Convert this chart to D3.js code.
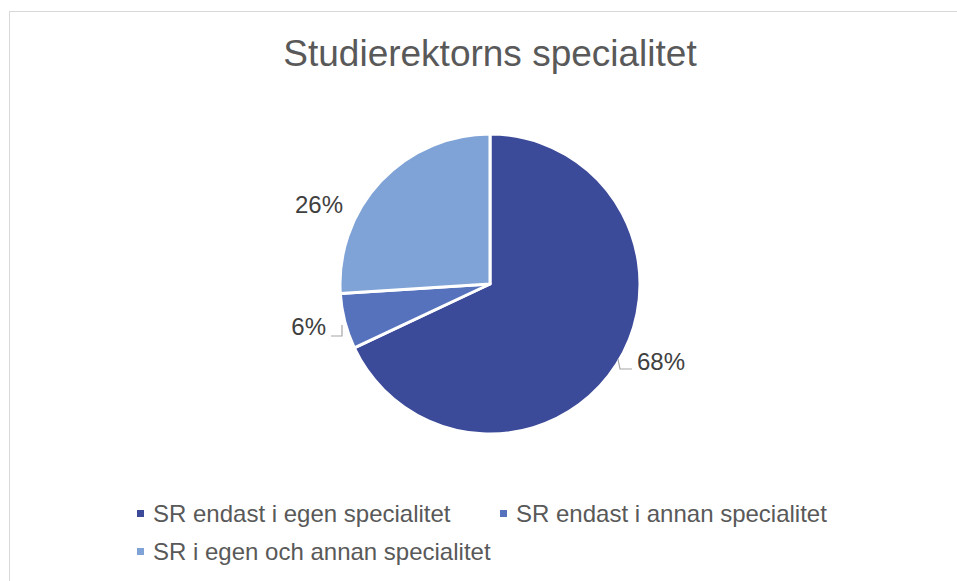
<!DOCTYPE html>
<html>
<head>
<meta charset="utf-8">
<script src="https://cdn.jsdelivr.net/npm/d3@7"></script>
<style>
  body { margin: 0; background: #fff; }
  text { font-family: "Liberation Sans", Arial, sans-serif; }
</style>
</head>
<body>
<svg width="957" height="581"></svg>
<script>
// chart data
var categories = ["SR endast i egen specialitet", "SR endast i annan specialitet", "SR i egen och annan specialitet"];
var values = [68, 6, 26];
var labels = ["68%", "6%", "26%"];
var colors = ["#3c4a9a", "#5672bd", "#7fa3d6"];

var svg = d3.select("svg"),
  width = +svg.attr("width"),
  height = +svg.attr("height");

// chart area border (runs off the right and bottom of the window)
svg.append("rect")
  .attr("x", 9.5).attr("y", 11.5)
  .attr("width", 960).attr("height", 600)
  .attr("fill", "#fff")
  .attr("stroke", "#d9d9d9");

// title
svg.append("text")
  .attr("x", 490).attr("y", 66)
  .attr("text-anchor", "middle")
  .attr("font-size", 37)
  .attr("fill", "#595959")
  .text("Studierektorns specialitet");

// pie
var cx = 490, cy = 284, r = 150;
var pie = d3.pie().sort(null).value(function(d) { return d; });
var arc = d3.arc().innerRadius(0).outerRadius(r);
var arcs = pie(values);

var g = svg.append("g").attr("transform", "translate(" + cx + "," + cy + ")");
g.selectAll("path")
  .data(arcs)
  .enter()
  .append("path")
  .attr("d", arc)
  .attr("fill", function(d, i) { return colors[i]; })
  .attr("stroke", "#fff")
  .attr("stroke-width", 3)
  .attr("stroke-linejoin", "round");

// data labels, placed outside the slices
var labelOffsets = [[147, 86], [-164, 51], [-171, -71]];
var anchors = ["start", "end", "middle"];
arcs.forEach(function(d, i) {
  svg.append("text")
    .attr("x", cx + labelOffsets[i][0])
    .attr("y", cy + labelOffsets[i][1])
    .attr("text-anchor", anchors[i])
    .attr("font-size", 24)
    .attr("fill", "#404040")
    .text(labels[i]);
});

// leader lines
var leaders = [
  [[cx + 128, cy + 75], [cx + 130, cy + 85], [cx + 142, cy + 85]],
  [[cx - 159, cy + 52], [cx - 148, cy + 52], [cx - 148, cy + 41]]
];
leaders.forEach(function(pts) {
  svg.append("path")
    .attr("d", d3.line()(pts))
    .attr("fill", "none")
    .attr("stroke", "#a6a6a6")
    .attr("stroke-width", 1.2);
});

// legend
var legendPos = [[137, 513], [500, 513], [137, 551]];
var legend = svg.append("g");
categories.forEach(function(c, i) {
  var p = legendPos[i];
  legend.append("rect")
    .attr("x", p[0]).attr("y", p[1] - 3)
    .attr("width", 7).attr("height", 7)
    .attr("fill", colors[i]);
  legend.append("text")
    .attr("x", p[0] + 16).attr("y", p[1] + 8.5)
    .attr("font-size", 24)
    .attr("fill", "#595959")
    .text(c);
});
</script>
</body>
</html>
